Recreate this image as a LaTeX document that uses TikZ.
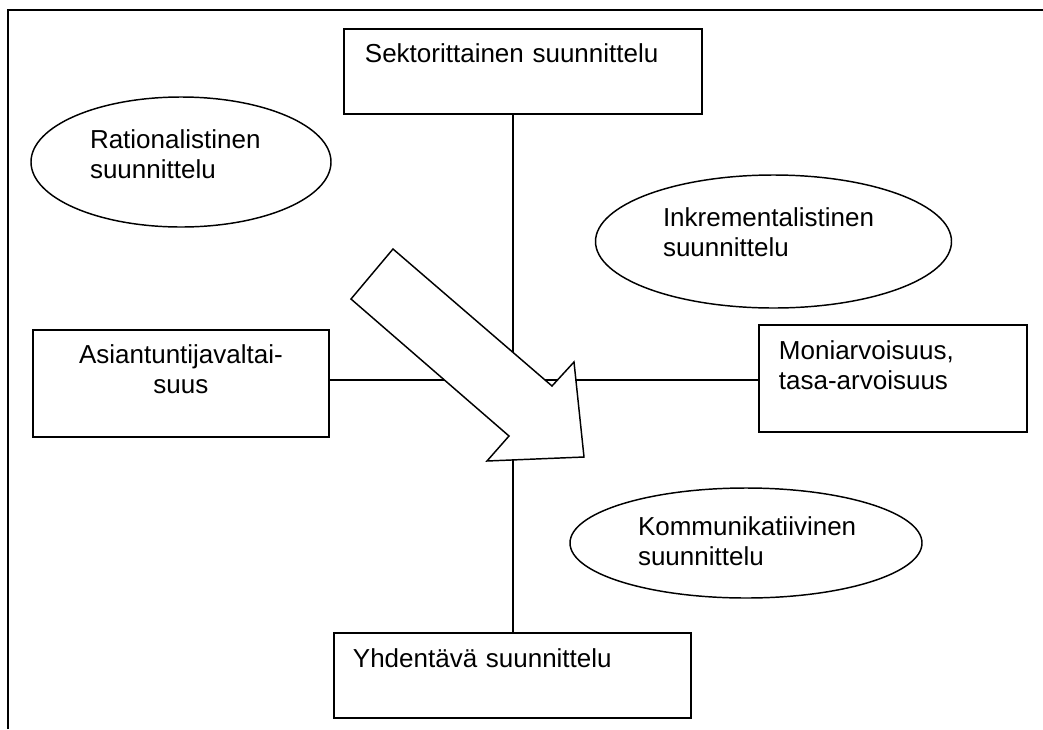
\documentclass[tikz,border=0pt]{standalone}
\usepackage{fontspec}
\setmainfont{Liberation Sans}
\usetikzlibrary{shapes.geometric}
\hyphenpenalty=10000
\exhyphenpenalty=10000

\tikzset{
  plan box/.style={draw, line width=1.4pt, rectangle, anchor=north west, inner ysep=0pt, font=\fontsize{19.5}{22.5}\selectfont},
  plan oval/.style={draw, line width=1.1pt, ellipse, inner sep=0pt, align=left, text height=15pt, font=\fontsize{19.5}{22.5}\selectfont},
  plan line/.style={line width=1.1pt},
}

\begin{document}
\begin{tikzpicture}[x=0.75pt,y=0.75pt,yscale=-1,xscale=1]
\useasboundingbox (0,0) rectangle (1043,729);

% Frame
\draw [line width=1.5pt] (8,729) -- (8,10) -- (1043,10) ;

% Box Node
\node [plan box, align=left, inner xsep=15.75pt, text width=237pt, text height=25.5pt, text depth=38.25pt] (sektori) at (343,28) {Sektorittainen suunnittelu};
% Box Node
\node [plan box, align=center, inner xsep=0pt, text width=222pt, text height=25.5pt, text depth=54.75pt] (asiantuntija) at (32,329) {Asiantuntijavaltai-\\suus};
% Box Node
\node [plan box, align=left, inner xsep=15pt, text width=171pt, text height=26.25pt, text depth=54pt] (moniarvo) at (758,324) {Moniarvoisuus,\\tasa-arvoisuus};
% Box Node
\node [plan box, align=left, inner xsep=14.25pt, text width=239.25pt, text height=26.25pt, text depth=37.5pt] (yhdentava) at (333,632) {Yhdentävä suunnittelu};

% Ellipse Node
\node [plan oval, minimum width=225pt, minimum height=97.5pt, text width=136.5pt, text depth=36pt] (rationaali) at (181,162) {Rationalistinen\\suunnittelu};
% Ellipse Node
\node [plan oval, minimum width=267pt, minimum height=99.75pt, text width=165.75pt, text depth=37.2pt] (inkrementaali) at (773.5,241.5) {Inkrementalistinen\\suunnittelu};
% Ellipse Node
\node [plan oval, minimum width=264pt, minimum height=82.5pt, text width=162pt, text depth=27pt] (kommunikaatio) at (746,543) {Kommunikatiivinen\\suunnittelu};

% Connection
\coordinate (risteys) at (513,380);
\draw [plan line] (sektori.south -| risteys) -- (yhdentava.north -| risteys) ;
\draw [plan line] (asiantuntija.east |- risteys) -- (moniarvo.west |- risteys) ;

% Block arrow
\draw [line width=1.1pt, fill=white, line join=miter] (393,249) -- (351,299) -- (509,436) -- (487,461) -- (584,457) -- (574,362) -- (552,386) -- cycle ;

\end{tikzpicture}
\end{document}
